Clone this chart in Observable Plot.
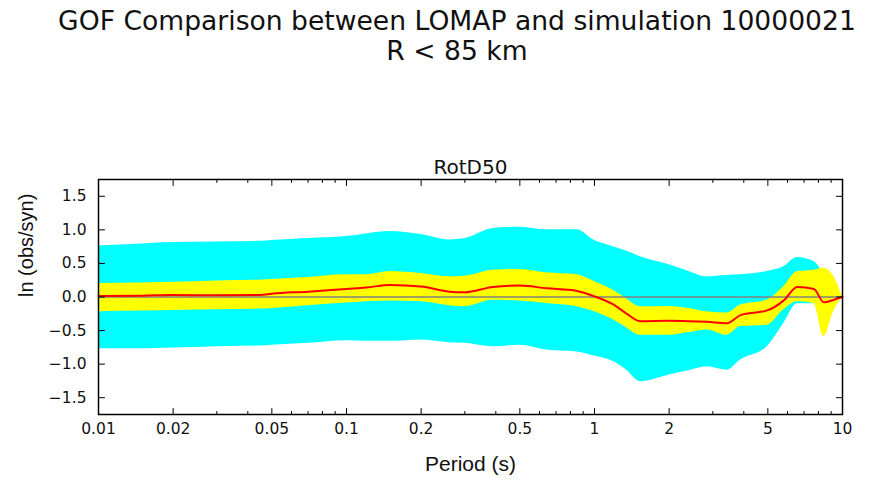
<!DOCTYPE html>
<html>
<head>
<meta charset="utf-8">
<script src="https://cdn.jsdelivr.net/npm/d3@7"></script>
<script src="https://cdn.jsdelivr.net/npm/@observablehq/plot@0.6"></script>
<style>
  html, body { margin: 0; padding: 0; background: #fff; }
  #wrap { width: 869px; height: 484px; overflow: hidden; position: relative; }
  #title { position: absolute; left: 45px; top: 0; width: 824px; height: 120px; text-align: center;
           font-family: "DejaVu Sans", sans-serif; font-size: 26.6px; line-height: 30px; color: #111; padding-top: 6px; box-sizing: border-box; }
  #chart { position: absolute; left: 0; top: 120px; }
</style>
</head>
<body>
<div id="wrap">
  <div id="title"></div>
  <div id="chart"></div>
</div>
<script>
const titleLines = ["GOF Comparison between LOMAP and simulation 10000021", "R < 85 km"];
const subplotTitle = "RotD50";
const xLabel = "Period (s)";
const yLabel = "ln (obs/syn)";

const periods = [0.01, 0.015, 0.02, 0.03, 0.045, 0.05, 0.07, 0.1, 0.12, 0.15, 0.2, 0.26, 0.3, 0.39, 0.5, 0.64, 0.85, 1.0, 1.19, 1.35, 1.53, 2.0, 2.4, 2.84, 3.42, 3.88, 4.97, 5.8, 6.57, 7.67, 8.41, 9.23, 10];
const meanBias = [0.015, 0.02, 0.03, 0.025, 0.03, 0.05, 0.08, 0.12, 0.14, 0.18, 0.155, 0.08, 0.07, 0.15, 0.17, 0.13, 0.09, 0.01, -0.11, -0.25, -0.36, -0.355, -0.36, -0.37, -0.39, -0.27, -0.2, -0.05, 0.15, 0.12, -0.08, -0.04, 0];
const cyanHi = [0.76, 0.79, 0.81, 0.82, 0.83, 0.84, 0.87, 0.90, 0.94, 0.975, 0.93, 0.85, 0.87, 1.02, 1.04, 1.0, 1.0, 0.84, 0.75, 0.68, 0.60, 0.48, 0.38, 0.30, 0.32, 0.33, 0.38, 0.45, 0.59, 0.53, 0.35, 0.2, 0];
const cyanLo = [-0.77, -0.77, -0.76, -0.74, -0.73, -0.72, -0.69, -0.65, -0.66, -0.66, -0.64, -0.68, -0.69, -0.74, -0.72, -0.79, -0.82, -0.88, -0.96, -1.09, -1.26, -1.16, -1.10, -1.04, -1.09, -0.94, -0.74, -0.39, -0.1, -0.1, -0.25, -0.15, 0];
const yellowHi = [0.20, 0.21, 0.22, 0.24, 0.25, 0.26, 0.29, 0.33, 0.33, 0.38, 0.35, 0.30, 0.31, 0.40, 0.41, 0.36, 0.33, 0.23, 0.10, -0.03, -0.145, -0.14, -0.17, -0.22, -0.24, -0.12, -0.045, 0.155, 0.38, 0.40, 0.43, 0.30, 0];
const yellowLo = [-0.22, -0.21, -0.20, -0.19, -0.18, -0.17, -0.13, -0.09, -0.07, -0.06, -0.07, -0.13, -0.145, -0.05, -0.06, -0.095, -0.145, -0.22, -0.34, -0.46, -0.57, -0.57, -0.53, -0.49, -0.57, -0.44, -0.42, -0.19, -0.07, -0.095, -0.59, -0.21, 0];

const xMajor = [0.01, 0.02, 0.05, 0.1, 0.2, 0.5, 1, 2, 5, 10];
const xMinor = [0.03, 0.04, 0.06, 0.07, 0.08, 0.09, 0.3, 0.4, 0.6, 0.7, 0.8, 0.9, 3, 4, 6, 7, 8, 9];
const yTicks = [-1.5, -1.0, -0.5, 0.0, 0.5, 1.0, 1.5];

document.getElementById("title").innerHTML = titleLines.map(s => s.replace(/&/g, "&amp;").replace(/</g, "&lt;")).join("<br>");

const data = periods.map((p, i) => ({period: p, mean: meanBias[i], cLo: cyanLo[i], cHi: cyanHi[i], yLo: yellowLo[i], yHi: yellowHi[i]}));

const tickFont = "DejaVu Sans, sans-serif";
const labelFont = "Liberation Sans, Arial, sans-serif";
const fmtY = d => (d < 0 ? "\u2212" : "") + Math.abs(d).toFixed(1);
const tickShape = {draw(context, l) { context.moveTo(0, 0); context.lineTo(0, -l); }};
const inTick = (vals, ch, side, rot, len) => Plot.vector(vals, {[ch]: d => d, frameAnchor: side, rotate: rot, length: len, anchor: "start", shape: tickShape, stroke: "#000", strokeWidth: 1});

const plot = Plot.plot({
  width: 869,
  height: 364,
  marginLeft: 98,
  marginRight: 27,
  marginTop: 59,
  marginBottom: 70,
  x: {type: "log", domain: [0.01, 10], axis: null},
  y: {domain: [-1.75, 1.75], axis: null},
  style: {background: "white", color: "#111"},
  marks: [
    Plot.areaY(data, {x: "period", y1: "cLo", y2: "cHi", fill: "#00ffff", curve: "monotone-x"}),
    Plot.areaY(data, {x: "period", y1: "yLo", y2: "yHi", fill: "#ffff00", curve: "monotone-x"}),
    Plot.ruleY([0], {stroke: "#808080", strokeWidth: 1.5}),
    Plot.lineY(data, {x: "period", y: "mean", stroke: "#ff0000", strokeWidth: 2, curve: "monotone-x"}),
    // tick labels
    Plot.text(xMajor, {x: d => d, text: d => String(d), frameAnchor: "bottom", dy: 8, lineAnchor: "top", fontSize: 15.5, fontFamily: tickFont, fill: "#111"}),
    Plot.text(yTicks, {y: d => d, text: fmtY, frameAnchor: "left", dx: -12, textAnchor: "end", fontSize: 15.5, fontFamily: tickFont, fill: "#111"}),
    // inward ticks on all four sides
    inTick(xMajor, "x", "bottom", 0, 6),
    inTick(xMinor, "x", "bottom", 0, 3),
    inTick(xMajor, "x", "top", 180, 6),
    inTick(xMinor, "x", "top", 180, 3),
    inTick(yTicks, "y", "left", 90, 6),
    inTick(yTicks, "y", "right", -90, 6),
    Plot.frame({stroke: "#000", strokeWidth: 1.5}),
    Plot.text([subplotTitle], {frameAnchor: "top", dy: -20, fontSize: 20, fontFamily: tickFont, fill: "#111"}),
    Plot.text([xLabel], {frameAnchor: "bottom", dy: 56, fontSize: 21, fontFamily: labelFont, fill: "#111"}),
    Plot.text([yLabel], {frameAnchor: "left", dx: -72, rotate: -90, fontSize: 20, fontFamily: labelFont, fill: "#111"})
  ]
});
document.getElementById("chart").appendChild(plot);
</script>
</body>
</html>
